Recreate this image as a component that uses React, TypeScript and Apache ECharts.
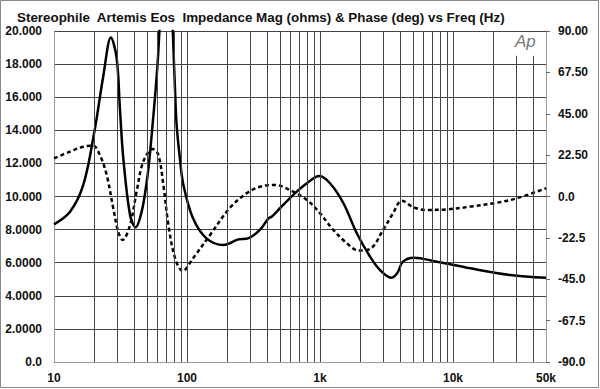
import React, { useEffect, useRef } from "react";
import * as echarts from "echarts";

// Impedance magnitude (ohms) vs frequency (Hz)
const freqZ = [10, 13.2, 16.6, 20.1, 23.5, 26.8, 29.6, 31.3, 33.2, 37.3, 41.1, 45.6, 49.8, 52.8, 59.2, 62, 66, 70, 74, 78, 81.4, 83.6, 88.4, 93.9, 111, 140, 188, 243, 288, 353, 410, 433, 500, 630, 796, 990, 1190, 1500, 1890, 2380, 2820, 3420, 3800, 4200, 5060, 7560, 13500, 26900, 50000];
const ohms = [8.32, 9.08, 10.7, 13.9, 17.3, 19.6, 18.35, 15.3, 12.3, 8.88, 8.14, 9.08, 10.9, 12.7, 17.3, 20.0, 25, 28, 25, 20.2, 16.3, 14.3, 12.3, 10.7, 8.68, 7.47, 7.07, 7.41, 7.47, 7.98, 8.68, 8.78, 9.29, 10.1, 10.8, 11.24, 10.8, 9.59, 7.78, 6.36, 5.56, 5.09, 5.36, 6.06, 6.3, 6.06, 5.66, 5.26, 5.09];

// Phase (deg) vs frequency (Hz)
const freqP = [10, 13.2, 16.6, 19.7, 22.1, 24.9, 27.9, 30.4, 32.8, 37.3, 41.8, 46.9, 55.3, 60.9, 66.4, 72.5, 81.4, 92.7, 111, 149, 211, 280, 353, 458, 593, 796, 1000, 1260, 1590, 1940, 2380, 2980, 3540, 4120, 5060, 6300, 8930, 13500, 21300, 30100, 50000];
const phaseDeg = [20.8, 24.4, 27.1, 27.6, 22.6, 11.7, -6.4, -19.1, -23.7, -15.5, 2.6, 18.9, 25.8, 22.6, 6.3, -15.5, -33.6, -40.5, -33.6, -20.9, -6.0, 1.7, 5.3, 6.3, 3.5, -1.9, -9.1, -18.2, -25.4, -29.4, -28.5, -18.2, -9.1, -2.3, -5.9, -7.3, -7.0, -5.5, -3.4, -1.0, 4.5];

// Vertical grid frequencies
const gridFreqs = [20, 30, 40, 50, 60, 70, 80, 90, 100, 200, 300, 400, 500, 600, 700, 800, 900, 1000, 2000, 3000, 4000, 5000, 6000, 7000, 8000, 9000, 10000, 20000];
const shortGridFreqs = [30000, 40000];
const xTickLabels: Record<number, string> = { 10: "10", 100: "100", 1000: "1k", 10000: "10k", 50000: "50k" };

const TITLE = "Stereophile  Artemis Eos  Impedance Mag (ohms) & Phase (deg) vs Freq (Hz)";
const FONT = "'Liberation Sans', Arial, Helvetica, sans-serif";

export default function App() {
  const ref = useRef<HTMLDivElement>(null);
  useEffect(() => {
    if (!ref.current) return;
    const chart = echarts.init(ref.current, undefined, { renderer: "svg" });
    const labelStyle = { fontFamily: FONT, fontWeight: "bold" as const, fontSize: 12, color: "#111" };
    chart.setOption({
      animation: false,
      backgroundColor: "#fff",
      title: {
        text: TITLE,
        left: 12,
        top: 6,
        textStyle: { ...labelStyle, fontSize: 13.4 },
      },
      grid: { left: 54, right: 54, top: 31, bottom: 27 },
      xAxis: {
        type: "log",
        logBase: 10,
        min: 10,
        max: 50000,
        axisLine: { show: true, lineStyle: { color: "#999", width: 1 } },
        axisTick: { show: false },
        splitLine: { show: false },
        axisLabel: {
          ...labelStyle,
          margin: 10,
          showMinLabel: true,
          showMaxLabel: true,
          formatter: (v: number) => xTickLabels[Math.round(v)] ?? "",
        },
      },
      yAxis: [
        {
          type: "value",
          position: "left",
          min: 0,
          max: 20,
          interval: 2,
          axisLine: { show: true, lineStyle: { color: "#999", width: 1 } },
          axisTick: { show: false },
          splitLine: { show: true, lineStyle: { color: "#444", width: 1 } },
          axisLabel: {
            ...labelStyle,
            margin: 12,
            formatter: (v: number) => (v === 0 ? "0.0" : v >= 10 ? v.toFixed(3) : v.toFixed(4)),
          },
        },
        {
          type: "value",
          position: "right",
          min: -90,
          max: 90,
          interval: 22.5,
          axisLine: { show: true, lineStyle: { color: "#999", width: 1 } },
          axisTick: { show: true, length: 4, lineStyle: { color: "#666" } },
          splitLine: { show: false },
          axisLabel: {
            ...labelStyle,
            margin: 12,
            formatter: (v: number) => (v > 0 ? v.toFixed(2) : v.toFixed(1)),
          },
        },
      ],
      graphic: [
        {
          type: "rect",
          shape: { x: 0.5, y: 0.5, width: 598, height: 387 },
          style: { fill: "none", stroke: "#888", lineWidth: 1 },
          silent: true,
        },
        {
          type: "text",
          x: 515,
          y: 33,
          style: { text: "Ap", font: "italic 17px 'Liberation Sans', Arial, sans-serif", fill: "#777" },
          silent: true,
        },
      ],
      series: [
        {
          type: "line",
          z: 1,
          data: [[10, 0]],
          showSymbol: false,
          lineStyle: { opacity: 0 },
          silent: true,
          markLine: {
            silent: true,
            symbol: ["none", "none"],
            label: { show: false },
            lineStyle: { color: "#444", width: 1, type: "solid" },
            emphasis: { disabled: true },
            data: [
              ...gridFreqs.map((f) => ({ xAxis: f })),
              ...shortGridFreqs.map((f) => [{ coord: [f, 18.5] }, { coord: [f, 0] }]),
            ],
          },
        },
        {
          type: "line",
          z: 3,
          yAxisIndex: 0,
          data: freqZ.map((f, i) => [f, ohms[i]]),
          showSymbol: false,
          smooth: 0.35,
          lineStyle: { color: "#000", width: 2.5 },
          silent: true,
        },
        {
          type: "line",
          z: 3,
          yAxisIndex: 1,
          data: freqP.map((f, i) => [f, phaseDeg[i]]),
          showSymbol: false,
          smooth: 0.35,
          lineStyle: { color: "#000", width: 2.5, type: [4, 3] },
          silent: true,
        },
      ],
    });
    return () => chart.dispose();
  }, []);
  return (
    <div
      ref={ref}
      style={{ position: "absolute", left: 0, top: 0, width: 600, height: 389, background: "#fff" }}
    />
  );
}
